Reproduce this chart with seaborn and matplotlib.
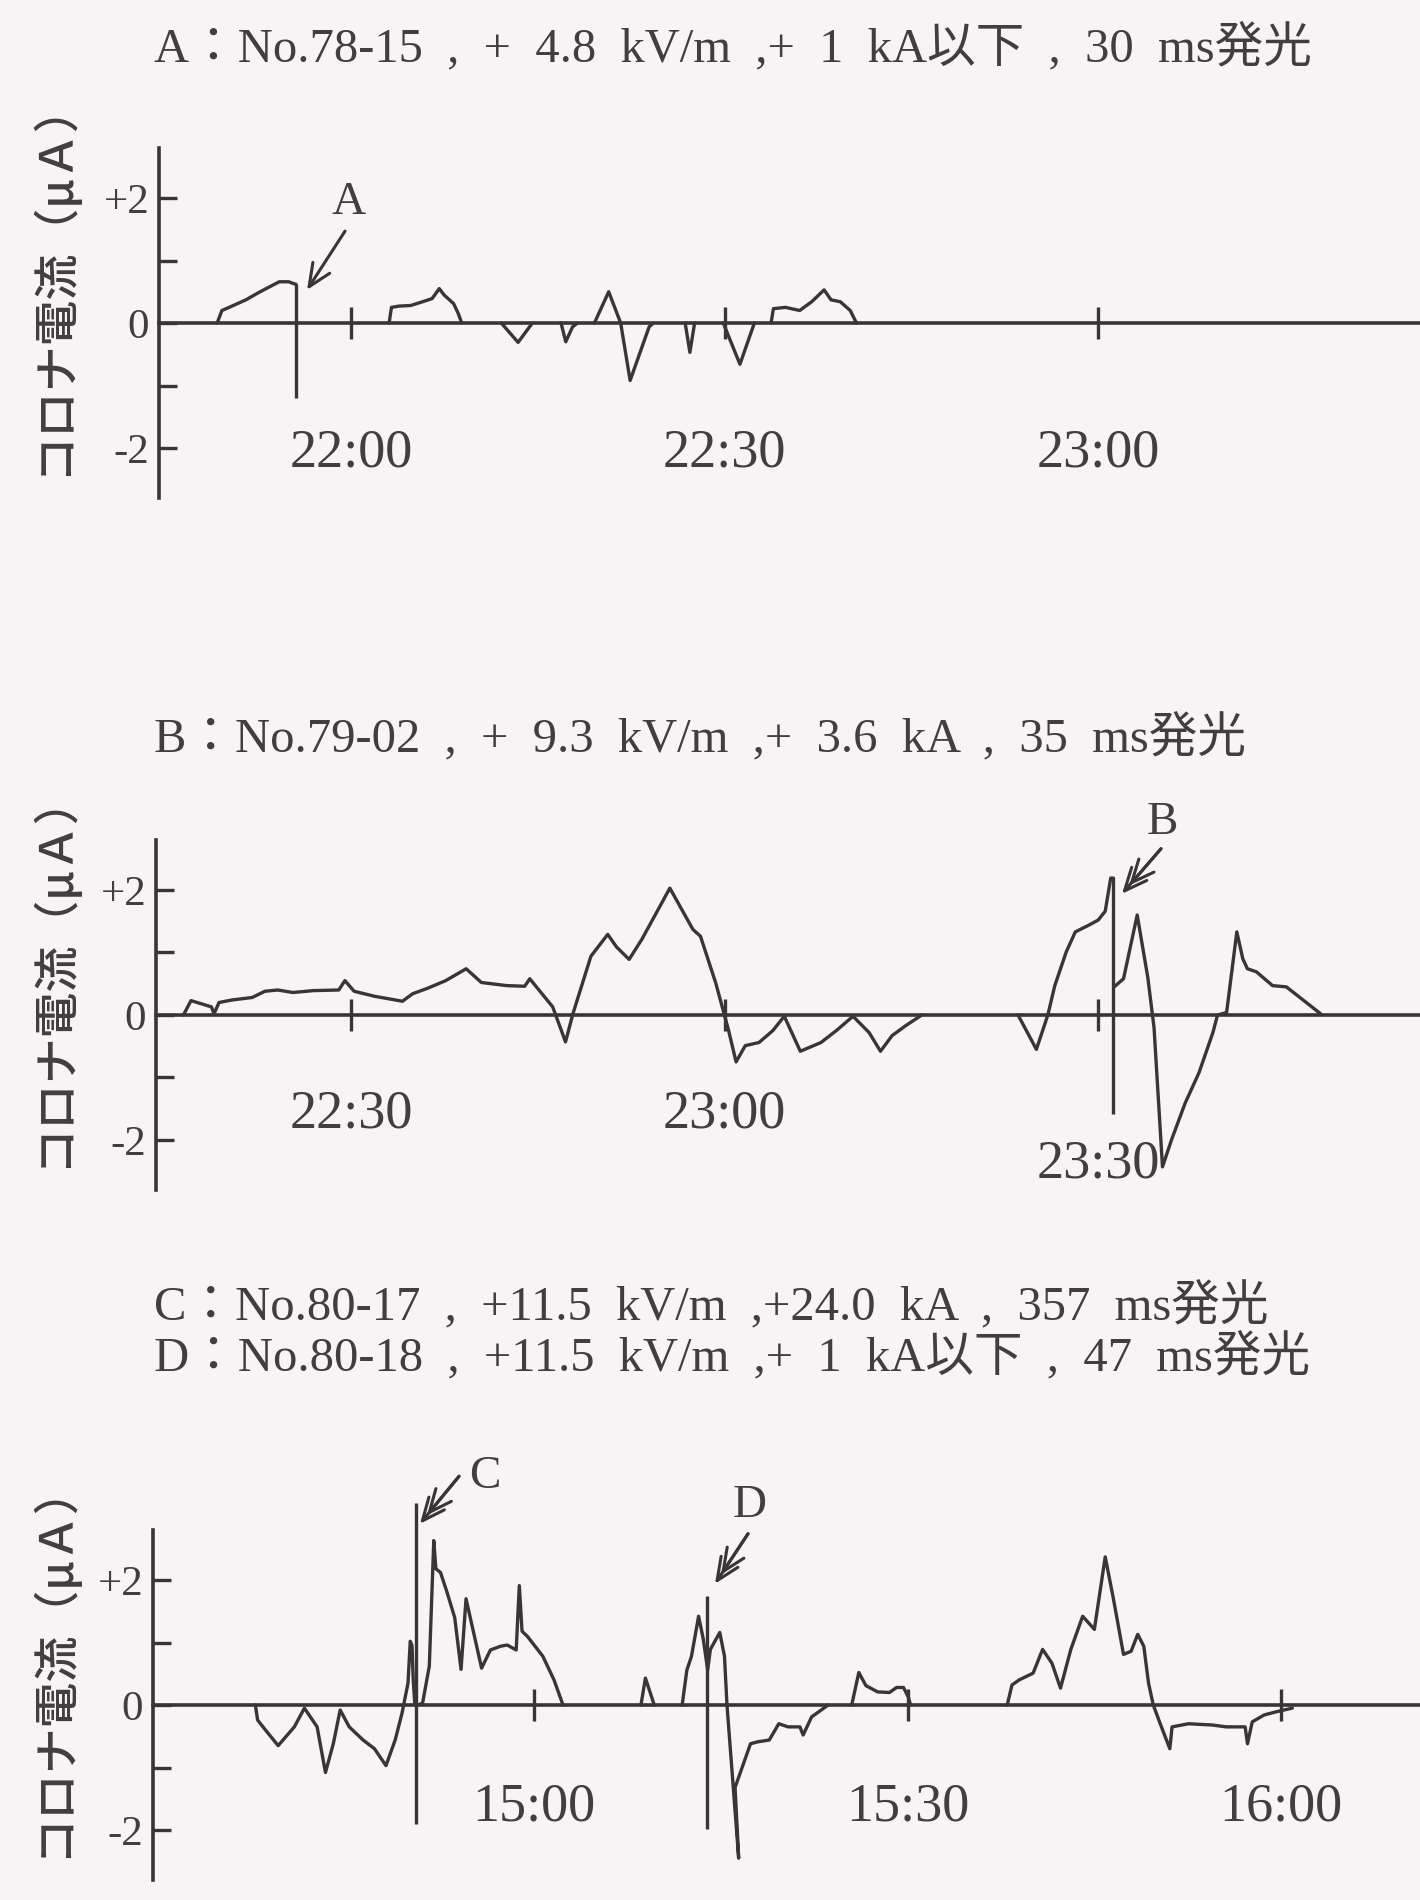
import matplotlib
matplotlib.use("Agg")
import matplotlib.pyplot as plt
from matplotlib.transforms import offset_copy
import numpy as np
import pandas as pd
import seaborn as sns

# ---------------------------------------------------------------- data
# Corona current (uA) vs. time; times are minutes after the first labelled
# clock mark of each panel.  Each inner list is one drawn stretch of trace.

title_a = "A：No.78-15  ,  +  4.8  kV/m  ,+  1  kA以下  ,  30  ms発光"
ticks_a = ["22:00", "22:30", "23:00"]
a_time = [
    [-10.75, -10.37, -9.79, -8.45, -7.30, -6.53, -5.76, -5.00, -4.61, -4.42],
    [3.06, 3.25, 3.83, 4.79, 5.75, 6.51, 7.09, 7.47, 8.24, 8.62, 8.89],
    [12.07, 13.42, 14.57],
    [16.87, 17.25, 17.80, 18.20],
    [19.55, 20.70, 21.66, 22.42, 23.95, 24.30],
    [26.84, 27.22, 27.60],
    [29.90, 31.24, 32.40],
    [33.74, 33.93, 34.90, 36.04, 37.00, 38.00, 38.56, 39.30, 40.10, 40.60],
]
a_current = [
    [0.00, 0.20, 0.25, 0.37, 0.50, 0.58, 0.66, 0.66, 0.63, 0.62],
    [0.00, 0.25, 0.27, 0.28, 0.34, 0.39, 0.55, 0.45, 0.31, 0.15, 0.00],
    [0.00, -0.31, 0.00],
    [0.00, -0.30, -0.06, 0.00],
    [0.00, 0.50, 0.00, -0.92, -0.06, 0.00],
    [0.00, -0.47, 0.00],
    [0.00, -0.66, 0.00],
    [0.00, 0.23, 0.25, 0.20, 0.34, 0.53, 0.37, 0.34, 0.20, 0.00],
]
a_event_time = [-4.42]
a_event_low = [-1.20]
a_event_high = [0.62]

title_b = "B：No.79-02  ,  +  9.3  kV/m  ,+  3.6  kA  ,  35  ms発光"
ticks_b = ["22:30", "23:00", "23:30"]
b_time = [
    [-13.46, -12.85, -11.21, -11.00, -10.60, -9.57, -7.94, -6.91, -5.89, -4.66,
     -3.03, -0.98, -0.49, 0.25, 1.88, 4.13, 4.95, 6.18, 7.61, 9.25,
     10.47, 12.52, 13.95, 14.36, 16.20, 17.23, 17.84, 19.27, 20.62, 21.32,
     22.34, 23.36, 25.61, 27.46, 28.07, 29.30, 30.32, 30.93, 31.67, 32.77,
     33.88, 34.80, 36.09, 37.75, 39.04, 40.32, 41.61, 42.53, 43.46, 44.56, 45.85],
    [53.58, 55.05, 55.97, 56.53, 57.45, 58.18, 59.29, 60.02, 60.58, 61.02, 61.24],
    [61.30, 62.05, 63.15, 64.00, 64.50, 65.18, 65.90, 67.00, 68.12, 69.23,
     69.60, 70.33, 71.15, 71.63, 72.00, 72.73, 74.02, 75.13, 77.88],
]
b_current = [
    [0.00, 0.23, 0.13, 0.02, 0.20, 0.24, 0.28, 0.38, 0.40, 0.36,
     0.39, 0.40, 0.55, 0.38, 0.30, 0.22, 0.34, 0.43, 0.55, 0.74,
     0.52, 0.47, 0.46, 0.58, 0.13, -0.43, 0.03, 0.94, 1.29, 1.09,
     0.89, 1.21, 2.03, 1.37, 1.26, 0.51, -0.24, -0.75, -0.49, -0.44,
     -0.25, -0.02, -0.58, -0.44, -0.24, -0.02, -0.28, -0.58, -0.33, -0.17, 0.00],
    [0.00, -0.55, 0.00, 0.47, 1.01, 1.33, 1.44, 1.52, 1.66, 2.19, 2.19],
    [0.45, 0.58, 1.60, 0.60, -0.20, -2.43, -2.00, -1.41, -0.92, -0.28,
     0.00, 0.04, 1.33, 0.90, 0.74, 0.69, 0.47, 0.45, 0.02],
]
b_event_time = [61.24]
b_event_low = [-1.58]
b_event_high = [2.19]

title_c = "C：No.80-17  ,  +11.5  kV/m  ,+24.0  kA  ,  357  ms発光"
title_d = "D：No.80-18  ,  +11.5  kV/m  ,+  1  kA以下  ,  47  ms発光"
ticks_c = ["15:00", "15:30", "16:00"]
c_time = [
    [-22.38, -22.20, -21.65, -20.55, -19.25, -18.44, -17.42, -16.75, -16.12, -15.57,
     -14.84, -13.73, -12.81, -11.89, -11.15, -10.60, -10.12, -9.94, -9.80, -9.70, -9.57],
    [-9.31, -8.95, -8.41, -8.05, -7.88, -7.51, -6.98, -6.37, -5.86, -5.46,
     -5.01, -4.21, -3.50, -2.69, -2.15, -1.43, -1.18, -0.96, -0.54, 0.71, 1.61, 2.33],
    [8.59, 8.95, 9.66],
    [11.90, 12.28, 12.65, 13.22, 13.60, 13.95, 14.17, 14.92, 15.30, 15.50,
     16.44, 16.15, 17.39, 17.95, 18.90, 19.66, 20.41, 21.36, 21.62, 22.30, 23.63],
    [25.52, 26.09, 26.66, 27.60, 28.55, 29.12, 29.68, 30.06, 30.25],
    [38.01, 38.39, 38.96, 40.09, 40.85, 41.60, 42.29, 43.12, 44.07, 45.01,
     45.88, 46.52, 47.35, 47.96, 48.49, 48.98, 49.36, 49.74, 50.30, 51.07,
     51.25, 52.57, 54.47, 55.60, 57.12, 57.31, 57.69, 58.64, 59.58, 60.91],
]
c_current = [
    [0.00, -0.24, -0.38, -0.65, -0.35, -0.05, -0.35, -1.08, -0.62, -0.08,
     -0.35, -0.56, -0.70, -0.97, -0.56, -0.13, 0.35, 1.02, 0.95, 0.40, 0.00],
    [0.00, 0.03, 0.62, 2.63, 2.18, 2.12, 1.80, 1.40, 0.57, 1.70,
     1.30, 0.59, 0.88, 0.94, 0.96, 0.88, 1.91, 1.18, 1.10, 0.78, 0.40, 0.00],
    [0.00, 0.43, 0.00],
    [0.00, 0.56, 0.78, 1.42, 1.05, 0.56, 0.89, 1.16, 0.78, 0.00,
     -2.45, -1.32, -0.62, -0.59, -0.56, -0.30, -0.35, -0.35, -0.48, -0.19, 0.00],
    [0.00, 0.52, 0.31, 0.21, 0.20, 0.28, 0.28, 0.13, 0.00],
    [0.00, 0.32, 0.40, 0.51, 0.89, 0.67, 0.27, 0.89, 1.42, 1.21,
     2.37, 1.72, 0.81, 0.86, 1.13, 0.94, 0.35, 0.00, -0.30, -0.70,
     -0.35, -0.30, -0.32, -0.35, -0.35, -0.62, -0.27, -0.16, -0.11, -0.05],
]
c_event_time = [-9.50, 13.93]
c_event_low = [-1.90, -1.98]
c_event_high = [3.23, 1.75]

y_ticks = [-2, -1, 0, 1, 2]
y_tick_labels = ["-2", "", "0", "", "+2"]
y_label = "コロナ電流（μＡ）"

# ---------------------------------------------------------------- style
INK = "#3a3434"
TEXT = "#433d3d"
PAPER = "#f6f4f4"
ROMAN = ["Liberation Serif", "Noto Sans CJK JP", "DejaVu Serif"]
JP = ["Noto Sans CJK JP", "DejaVu Sans"]

sns.set_theme(style="white")
plt.rcParams["font.family"] = ROMAN
plt.rcParams["axes.unicode_minus"] = False

W, H, DPI = 1420, 1900, 100
PX_PER_MIN = 12.45
PX_PER_UA = 62.5
YLIM = 2.8

fig = plt.figure(figsize=(W / DPI, H / DPI), dpi=DPI)
fig.patch.set_facecolor(PAPER)


def to_minutes(label):
    h, m = label.split(":")
    return int(h) * 60 + int(m)


def frame(times, currents):
    rows = []
    for k, (ts, vs) in enumerate(zip(times, currents)):
        for t, v in zip(ts, vs):
            rows.append((k, t, v))
    return pd.DataFrame(rows, columns=["seg", "t", "current"])


def arrow(ax, head, tail, double):
    props = dict(arrowstyle="->,head_length=0.45,head_width=0.2",
                 mutation_scale=36, lw=2.2, color=INK, shrinkA=0, shrinkB=0)
    ax.annotate("", xy=head, xytext=tail, arrowprops=props,
                annotation_clip=False)
    if double:
        ph = ax.transData.transform(head)
        pt = ax.transData.transform(tail)
        d = pt - ph
        u = d / np.hypot(*d)
        tr = offset_copy(ax.transData, fig=fig, x=u[0] * 11, y=u[1] * 11,
                         units="dots")
        ax.annotate("", xy=head, xycoords=tr, xytext=tail, textcoords="data",
                    arrowprops=props, annotation_clip=False)


panels = [
    dict(times=a_time, cur=a_current, ev=(a_event_time, a_event_low, a_event_high),
         ticks=ticks_a, left=159, tick0=351, zero=323, pads=[64, 64, 64],
         marks=[("A", (-0.16, 1.92), (-3.53, 0.53), (-0.48, 1.47), False)]),
    dict(times=b_time, cur=b_current, ev=(b_event_time, b_event_low, b_event_high),
         ticks=ticks_b, left=156, tick0=351, zero=1015, pads=[42, 42, 78],
         marks=[("B", (65.2, 3.08), (61.93, 1.94), (65.06, 2.66), True)]),
    dict(times=c_time, cur=c_current, ev=(c_event_time, c_event_low, c_event_high),
         ticks=ticks_c, left=153, tick0=534, zero=1705, pads=[44, 44, 44],
         marks=[("C", (-3.94, 3.66), (-9.16, 2.90), (-6.02, 3.66), True),
                ("D", (17.35, 3.19), (14.54, 1.94), (17.19, 2.74), True)]),
]

for p in panels:
    h_px = 2 * YLIM * PX_PER_UA
    bottom_px = p["zero"] + YLIM * PX_PER_UA
    ax = fig.add_axes([p["left"] / W, 1 - bottom_px / H,
                       (W - p["left"]) / W, h_px / H])
    ax.set_facecolor("none")
    ax.set_xlim((p["left"] - p["tick0"]) / PX_PER_MIN,
                (W - p["tick0"]) / PX_PER_MIN)
    ax.set_ylim(-YLIM, YLIM)

    df = frame(p["times"], p["cur"])
    sns.lineplot(data=df, x="t", y="current", units="seg", estimator=None,
                 sort=False, color=INK, lw=2.4, ax=ax, legend=False)
    et, elo, ehi = p["ev"]
    ax.vlines(et, elo, ehi, color=INK, lw=2.4, clip_on=False)

    base = to_minutes(p["ticks"][0])
    ax.set_xticks([to_minutes(s) - base for s in p["ticks"]])
    ax.set_xticklabels(p["ticks"])
    ax.set_yticks(y_ticks)
    ax.set_yticklabels(y_tick_labels)
    ax.set_xlabel("")
    ax.set_ylabel(y_label, fontfamily=JP, fontsize=33, fontweight="medium",
                  color=TEXT)
    ax.yaxis.label.set_va("center")
    ax.yaxis.set_label_coords((53 - p["left"]) / (W - p["left"]), 0.63)

    for side in ("top", "right"):
        ax.spines[side].set_visible(False)
    ax.spines["bottom"].set_position(("data", 0))
    for side in ("left", "bottom"):
        ax.spines[side].set_color(INK)
        ax.spines[side].set_linewidth(2.6)

    ax.tick_params(axis="x", bottom=True, direction="inout", length=23,
                   width=2.4, color=INK, labelcolor=TEXT, labelsize=39)
    ax.tick_params(axis="y", left=True, direction="in", length=13, width=2.4,
                   color=INK, labelcolor=TEXT, labelsize=31, pad=7)
    for tick, pad in zip(ax.xaxis.get_major_ticks(), p["pads"]):
        tick.set_pad(pad)

    for letter, pos, head, tail, double in p["marks"]:
        ax.text(pos[0], pos[1], letter, fontsize=34,
                color=TEXT, ha="center", va="center")
        arrow(ax, head, tail, double)

# panel headings
for text, y in [(title_a, 48), (title_b, 738), (title_c, 1306), (title_d, 1357)]:
    fig.text(154 / W, 1 - y / H, text, ha="left", va="center",
             fontsize=35, color=TEXT)

fig.savefig("out.png", dpi=DPI, facecolor=PAPER)
